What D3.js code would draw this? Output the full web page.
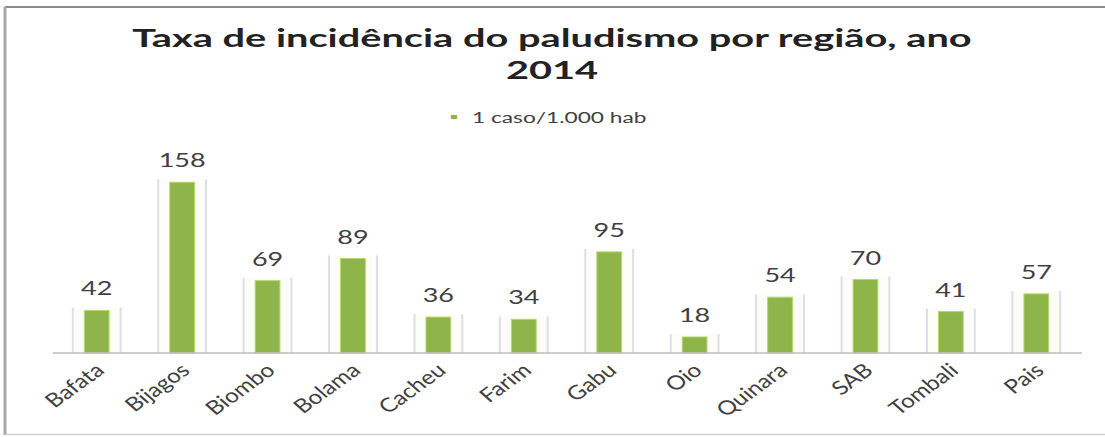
<!DOCTYPE html>
<html>
<head>
<meta charset="utf-8">
<script src="https://cdn.jsdelivr.net/npm/d3@7"></script>
<style>
  html, body { margin: 0; padding: 0; background: #fff; }
  svg { display: block; }
</style>
</head>
<body>
<svg id="chart" width="1105" height="437"></svg>
<script>
// Incidence of malaria by region, 2014 (cases per 1,000 inhabitants)
const titleLines = ["Taxa de incidência do paludismo por região, ano", "2014"];
const seriesName = "1 caso/1.000 hab";
const regions = ["Bafata", "Bijagos", "Biombo", "Bolama", "Cacheu", "Farim",
                 "Gabu", "Oio", "Quinara", "SAB", "Tombali", "Pais"];
const incidence = [42, 158, 69, 89, 36, 34, 95, 18, 54, 70, 41, 57];

const W = 1105, H = 437;
const SX = 1.42;              // horizontal stretch applied to text
const svg = d3.select("#chart");
const font = "Lato, 'Open Sans', sans-serif";
const textColor = "#404040";

// frame
svg.append("line").attr("x1", 5).attr("x2", W).attr("y1", 7).attr("y2", 7)
  .attr("stroke", "#8a8a8a").attr("stroke-width", 2);
svg.append("line").attr("x1", 5).attr("x2", 5).attr("y1", 7).attr("y2", 435)
  .attr("stroke", "#a8a8a8").attr("stroke-width", 3);
svg.append("line").attr("x1", 5).attr("x2", W).attr("y1", 434.5).attr("y2", 434.5)
  .attr("stroke", "#cfcfcf").attr("stroke-width", 1.5);

// title
const title = svg.append("g").attr("font-family", font).attr("font-weight", 700)
  .attr("font-size", 25).attr("fill", "#222").attr("text-anchor", "middle");
titleLines.forEach((t, i) => {
  title.append("text")
    .attr("transform", `translate(552,${i === 0 ? 47 : 79}) scale(1.59,1)`)
    .text(t);
});

// legend
const lg = svg.append("g").attr("transform", "translate(552,117)");
lg.append("rect").attr("x", -101).attr("y", -2).attr("width", 6).attr("height", 4)
  .attr("fill", "#8db54a");
lg.append("text").attr("transform", `translate(-80,6) scale(${SX},1)`)
  .attr("font-family", font).attr("font-size", 16).attr("fill", textColor)
  .text(seriesName);

// scales
const x = d3.scaleBand().domain(regions).range([54, 1079]).padding(0);
const yMin = 3.5;
const y = d3.scaleLinear().domain([yMin, 160]).range([353, 353 - (160 - yMin) * 1.105]);
const bw = x.bandwidth();
const data = regions.map((r, i) => ({ r, v: incidence[i] }));

// bar backdrops
const back = svg.append("g");
data.forEach(d => {
  const cx = x(d.r) + bw / 2, w = bw * 0.56, top = y(d.v) - 3;
  back.append("rect").attr("x", cx - w / 2).attr("y", top)
    .attr("width", w).attr("height", y(yMin) - top).attr("fill", "#fdfdf8");
  [-w / 2, w / 2].forEach(dx => back.append("line")
    .attr("x1", cx + dx).attr("x2", cx + dx).attr("y1", top).attr("y2", y(yMin))
    .attr("stroke", "#dedee9").attr("stroke-width", 2));
});

// bars
svg.append("g").selectAll("rect").data(data).join("rect")
  .attr("x", d => x(d.r) + bw / 2 - bw * 0.145)
  .attr("width", bw * 0.29)
  .attr("y", d => y(d.v))
  .attr("height", d => y(yMin) - y(d.v))
  .attr("fill", "#8db54a")
  .attr("stroke", "#b8d86e").attr("stroke-width", 1);

// value labels
svg.append("g").selectAll("text").data(data).join("text")
  .attr("transform", d => `translate(${x(d.r) + bw / 2},${y(d.v) - 15}) scale(${SX},1)`)
  .attr("text-anchor", "middle").attr("font-family", font).attr("font-size", 19)
  .attr("fill", textColor).text(d => d.v);

// category axis
const axis = svg.append("g").attr("transform", `translate(0,${y(yMin)})`)
  .call(d3.axisBottom(x).tickSize(0).tickFormat(""));
axis.select(".domain").attr("stroke", "#bdbdbd").attr("stroke-width", 1.5)
  .attr("d", "M53,0H1082");

svg.append("g").selectAll("text").data(regions).join("text")
  .attr("transform", r => `translate(${x(r) + bw / 2 + 9},372) scale(1.25,1) rotate(-42)`)
  .attr("text-anchor", "end").attr("font-family", font).attr("font-size", 19.5)
  .attr("fill", textColor).text(r => r);
</script>
</body>
</html>
